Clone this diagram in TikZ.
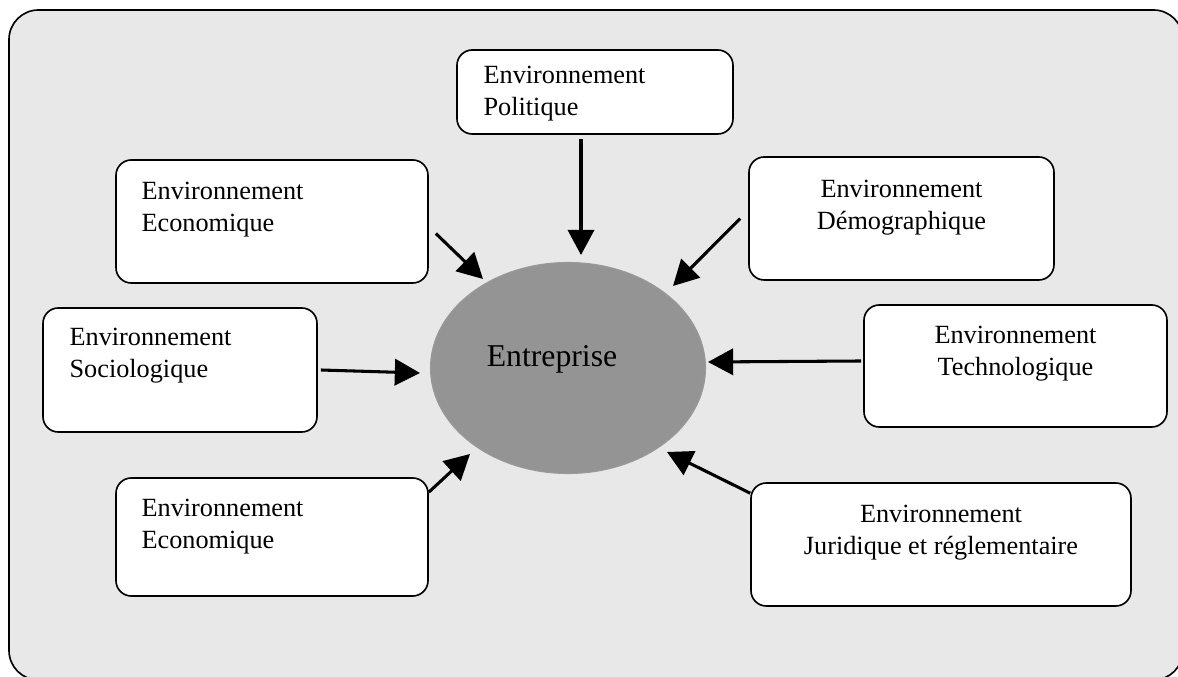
\documentclass[tikz,border=0pt]{standalone}
\usepackage{fontspec}
\setmainfont{Liberation Serif}
\usepackage{tikz}
\usetikzlibrary{shapes.geometric, arrows.meta, calc}
\newcommand{\px}{0.457pt}
\definecolor{fond}{RGB}{232,232,232}
\definecolor{gris}{RGB}{148,148,148}
\tikzstyle{boite} = [draw, fill=white, line width=0.75pt, rounded corners=7pt, inner sep=0pt]
\tikzstyle{texte} = [inner sep=0pt, font=\fontsize{12}{14.6}\selectfont]
\tikzstyle{fleche} = [line width=1.4pt, -{Triangle[length=11.5pt,width=12pt]}]

\begin{document}
\begin{tikzpicture}[x=\px, y=-\px]
	\clip (0,0) rectangle (1178,677);
	\draw[fill=fond, line width=0.75pt, rounded corners=13.5pt] (9,10) rectangle (1183,680);
	% les environnements
	\node[boite, minimum width=276*\px, minimum height=84*\px] (pol) at (595,92) {};
	\node[boite, minimum width=312*\px, minimum height=123*\px] (eco1) at (272,221.5) {};
	\node[boite, minimum width=305*\px, minimum height=123*\px] (demo) at (901.5,218.5) {};
	\node[boite, minimum width=274*\px, minimum height=124*\px] (soc) at (180,370) {};
	\node[boite, minimum width=303*\px, minimum height=122*\px] (tech) at (1015.5,366) {};
	\node[boite, minimum width=312*\px, minimum height=118*\px] (eco2) at (272,537) {};
	\node[boite, minimum width=380*\px, minimum height=123*\px] (jur) at (941,544.5) {};
	\node[texte, anchor=north west, align=left] (polT) at ([shift={(27,17)}]pol.north west) {Environnement\\Politique};
	\node[texte, anchor=north west, align=left] (eco1T) at ([shift={(26,23)}]eco1.north west) {Environnement\\Economique};
	\node[texte, anchor=north, align=center] (demoT) at ([shift={(0,24)}]demo.north) {Environnement\\Démographique};
	\node[texte, anchor=north west, align=left] (socT) at ([shift={(27,21)}]soc.north west) {Environnement\\Sociologique};
	\node[texte, anchor=north, align=center] (techT) at ([shift={(0,22)}]tech.north) {Environnement\\Technologique};
	\node[texte, anchor=north west, align=left] (eco2T) at ([shift={(26,22)}]eco2.north west) {Environnement\\Economique};
	\node[texte, anchor=north, align=center] (jurT) at ([shift={(0,23)}]jur.north) {Environnement\\Juridique et réglementaire};
	% l'entreprise
	\node[ellipse, draw=gray!80, fill=gris, line width=0.5pt, minimum width=275*\px, minimum height=211*\px, inner sep=0pt] (ent) at (568,368) {};
	\node[texte, font=\fontsize{14.5}{17}\selectfont] (entT) at (552,359) {Entreprise};
	% pointes des fleches
	\coordinate (pPol) at (581,255);
	\coordinate (pEco1) at (483,279);
	\coordinate (pDemo) at (673,286);
	\coordinate (pSoc) at (420,373);
	\coordinate (pTech) at (708,362);
	\coordinate (pEco2) at (470,454);
	\coordinate (pJur) at (667,452);
	\draw[fleche] ([shift={(-14,4)}]pol.south) -- (pPol);
	\draw[fleche] ([shift={(7,12)}]eco1.east) -- (pEco1);
	\draw[fleche] ([shift={(-8,0)}]demo.west) -- (pDemo);
	\draw[fleche] ([shift={(3,0)}]soc.east) -- (pSoc);
	\draw[fleche] ([shift={(-2,-5)}]tech.west) -- (pTech);
	\draw[fleche] ([shift={(0,15)}]eco2.north east) -- (pEco2);
	\draw[fleche] ([shift={(0,11)}]jur.north west) -- (pJur);
\end{tikzpicture}
\end{document}
